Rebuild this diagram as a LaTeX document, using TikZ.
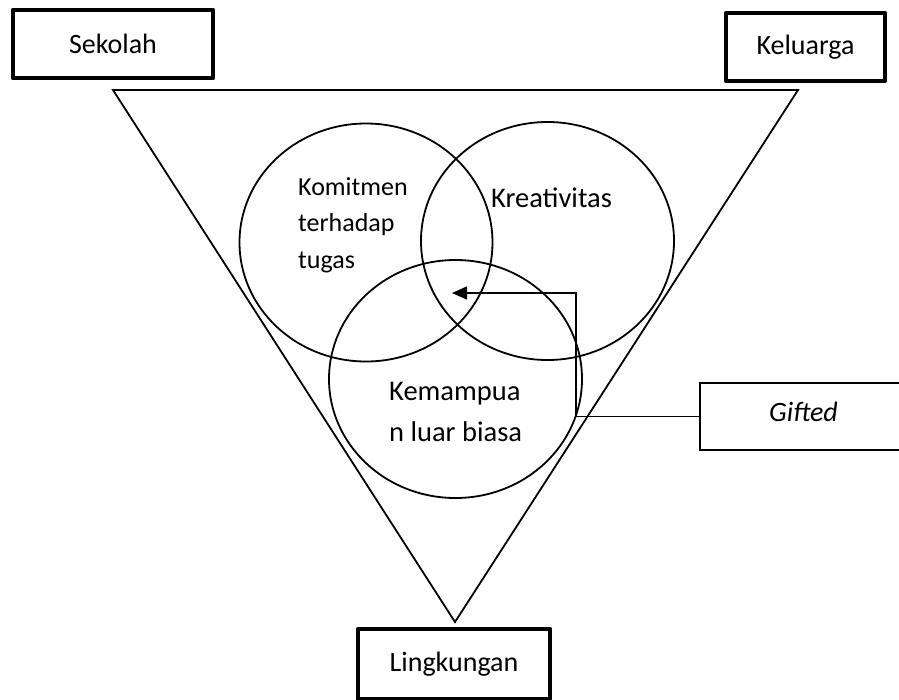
\documentclass[tikz,border=0pt]{standalone}
\usepackage{fontspec}
\setmainfont{Carlito}
\usetikzlibrary{shapes.geometric,arrows.meta}
\begin{document}
\begin{tikzpicture}[x=1pt,y=-1pt,
  thickbox/.style={draw, line width=4.5pt, line join=round, inner sep=0pt, font=\fontsize{28}{34}\selectfont},
  venn/.style={draw, ellipse, line width=1.8pt, minimum width=253pt, minimum height=238pt, inner sep=0pt},
  lbl/.style={inner sep=0pt, anchor=base west, align=left},
  conn/.style={line width=1.5pt},
  tri/.style={line width=1.8pt, line join=miter}
]
\useasboundingbox (0,0) rectangle (899,699);
\clip (0,0) rectangle (899,699);
\fill[white] (0,0) rectangle (899,699);

% outer boxes
\node[thickbox, minimum width=200pt, minimum height=68pt] (sekolah) at (113,44) {Sekolah};
\node[thickbox, minimum width=159pt, minimum height=68pt] (keluarga) at (805.5,47) {Keluarga};
\node[thickbox, minimum width=192pt, minimum height=70pt] (lingkungan) at (454,664) {Lingkungan};

% triangle
\coordinate (tl) at (113,90);
\coordinate (tr) at (798,90);
\coordinate (tb) at (455,622);
\draw[tri] (tl) -- (tr) -- (tb) -- cycle;

% Venn ellipses
\node[venn] (ckom) at (366,242.5) {};
\node[venn] (ckre) at (547.5,241) {};
\node[venn] (ckem) at (455.5,379) {};

% labels (base anchor = baseline of last line)
\node[lbl, font=\fontsize{26}{36.5}\selectfont] (komitmen) at (298,268) {Komitmen\\terhadap\\tugas};
\node[lbl, font=\fontsize{28.5}{34}\selectfont] (kreativitas) at (491,207) {Kreativitas};
\node[lbl, font=\fontsize{28.5}{41}\selectfont] (kemampuan) at (389,441) {Kemampua\\n luar biasa};

% Gifted box
\node[draw, line width=1.5pt, minimum width=207pt, minimum height=67pt, inner sep=0pt,
      text height=21pt, text depth=11pt, font=\fontsize{28}{34}\selectfont\itshape] (gifted) at (803.5,416.5) {Gifted};

% connector
\coordinate (bend) at (576,416.5);
\coordinate (tip) at (452,293);
\draw[conn, -{Triangle[length=15pt,width=13pt]}] (gifted.west) -- (bend) |- (tip);
\end{tikzpicture}
\end{document}
